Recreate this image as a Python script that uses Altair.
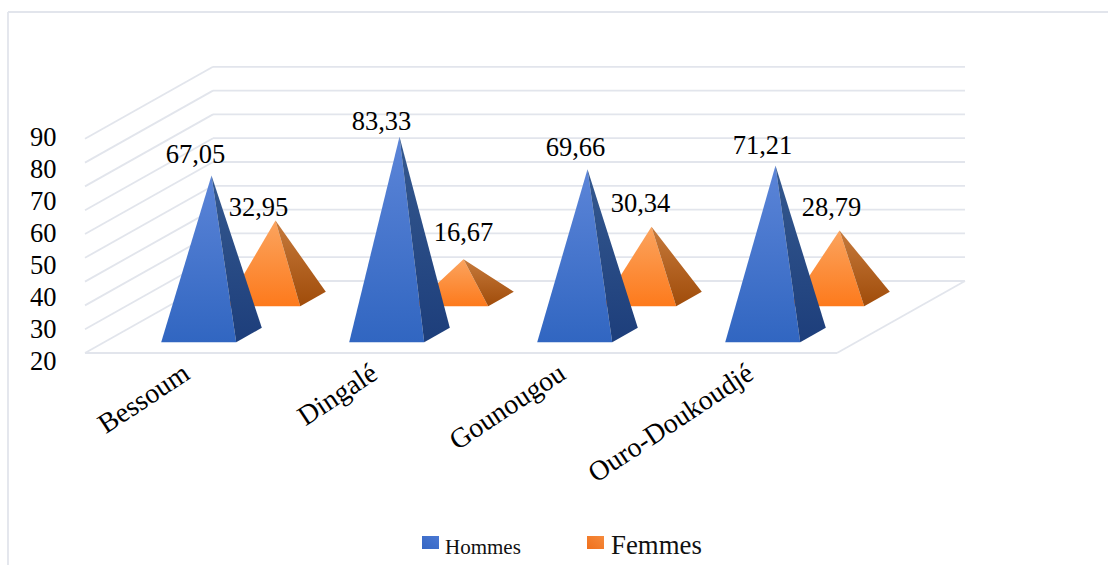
import altair as alt
import pandas as pd

# Chart values
communes = ["Bessoum", "Dingalé", "Gounougou", "Ouro-Doukoudjé"]
hommes = [67.05, 83.33, 69.66, 71.21]
femmes = [32.95, 16.67, 30.34, 28.79]
hommes_labels = ["67,05", "83,33", "69,66", "71,21"]
femmes_labels = ["32,95", "16,67", "30,34", "28,79"]
tick_labels = ["90", "80", "70", "60", "50", "40", "30", "20"]
grid_levels = [0, 10, 20, 30, 40, 50, 60, 70, 80, 90]

W, H = 1108, 565
FONT = "Liberation Serif"
GRID = "#e2e5ec"

# Oblique projection of the 3D box: one value unit is PX pixels tall, depth runs 0..1
PX = 2.38
FLOOR_Y = 353
LEFT = 85.0
FLOOR_W = 752.0
CAT_W = FLOOR_W / len(communes)
DEPTH_DX = 128.0
DEPTH_DU = 72.0 / PX
PYR_W = 75.0
PYR_D = 0.2


def project(x, depth, value):
    return x + depth * DEPTH_DX, value + depth * DEPTH_DU


def triangle_rows(face, pts):
    """Turn a triangle into area rows (x, upper, lower) sorted along x."""
    a, b, c = sorted(pts)
    if c[0] == a[0]:
        mid = a[1]
    else:
        mid = a[1] + (c[1] - a[1]) * (b[0] - a[0]) / (c[0] - a[0])
    return [
        {"face": face, "x": a[0], "u": a[1], "u2": a[1]},
        {"face": face, "x": b[0], "u": max(b[1], mid), "u2": min(b[1], mid)},
        {"face": face, "x": c[0], "u": c[1], "u2": c[1]},
    ]


def pyramid_faces(values, centre_depth):
    front, side, apexes = [], [], []
    for i, v in enumerate(values):
        cx = LEFT + 0.5 + CAT_W * (i + 0.5)
        d0 = centre_depth - PYR_D / 2
        d1 = centre_depth + PYR_D / 2
        fl = project(cx - PYR_W / 2, d0, 0)
        fr = project(cx + PYR_W / 2, d0, 0)
        br = project(cx + PYR_W / 2, d1, 0)
        ap = project(cx, centre_depth, v)
        front += triangle_rows(i, [fl, fr, ap])
        side += triangle_rows(i, [fr, br, ap])
        apexes.append(ap)
    return pd.DataFrame(front), pd.DataFrame(side), apexes


h_front, h_side, h_apex = pyramid_faces(hommes, 0.25)
f_front, f_side, f_apex = pyramid_faces(femmes, 0.75)

x_scale = alt.Scale(domain=[0, W], range=[0, W], nice=False, zero=False)
y_scale = alt.Scale(
    domain=[(FLOOR_Y - H) / PX, FLOOR_Y / PX], range=[H, 0], nice=False, zero=False
)
X = alt.X("x:Q", scale=x_scale, axis=None)
Y = alt.Y("u:Q", scale=y_scale, axis=None)


def gradient(top, bottom):
    return alt.Gradient(
        gradient="linear",
        x1=0, y1=0, x2=0, y2=1,
        stops=[alt.GradientStop(color=top, offset=0), alt.GradientStop(color=bottom, offset=1)],
    )


def face_layer(df, top, bottom):
    return (
        alt.Chart(df)
        .mark_area(color=gradient(top, bottom), interpolate="linear", opacity=1)
        .encode(x=X, y=Y, y2="u2:Q", detail="face:N")
    )


# Walls and floor of the box
grid_rows = []
for lv in grid_levels:
    ax, au = project(LEFT, 0, lv)
    bx, bu = project(LEFT, 1, lv)
    grid_rows.append({"x": ax, "u": au, "xe": bx, "ue": bu})
    grid_rows.append({"x": bx, "u": bu, "xe": bx + FLOOR_W, "ue": bu})
fx, fu = project(LEFT, 0, 0)
rx, ru = project(LEFT + FLOOR_W, 1, 0)
grid_rows.append({"x": fx, "u": fu, "xe": fx + FLOOR_W, "ue": fu})
grid_rows.append({"x": fx + FLOOR_W, "u": fu, "xe": rx, "ue": ru})
grid = (
    alt.Chart(pd.DataFrame(grid_rows))
    .mark_rule(color=GRID, strokeWidth=1.8)
    .encode(x=X, y=Y, x2="xe:Q", y2="ue:Q")
)

# Outer frame: left and top edges
frame_left = (
    alt.Chart(pd.DataFrame({"a": [0]}))
    .mark_rule(color=GRID, strokeWidth=1.8)
    .encode(x=alt.value(8), y=alt.value(12), y2=alt.value(H))
)
frame_top = (
    alt.Chart(pd.DataFrame({"a": [0]}))
    .mark_rule(color=GRID, strokeWidth=1.8)
    .encode(x=alt.value(8), x2=alt.value(W), y=alt.value(12))
)

# Value labels sit near each apex; nudges in pixels (dx, dy)
h_nudge = [(-16, -20), (-18, -15), (-12, -21), (-13, -20)]
f_nudge = [(-17, -13), (0, -26), (-11, -23), (-8, -22.5)]
label_rows = []
for apexes, texts, nudges in ((h_apex, hommes_labels, h_nudge), (f_apex, femmes_labels, f_nudge)):
    for (ax, au), t, (nx, ny) in zip(apexes, texts, nudges):
        label_rows.append({"x": ax + nx, "u": au - ny / PX, "t": t})
value_labels = (
    alt.Chart(pd.DataFrame(label_rows))
    .mark_text(font=FONT, fontSize=26.5, color="black", align="center", baseline="middle")
    .encode(x=X, y=Y, text="t:N")
)

# Vertical axis labels
tick_df = pd.DataFrame({"t": tick_labels, "py": [138 + 32 * i for i in range(len(tick_labels))]})
ticks = (
    alt.Chart(tick_df)
    .mark_text(font=FONT, fontSize=26.5, color="black", align="right", baseline="middle")
    .encode(
        x=alt.value(56.5),
        y=alt.Y("py:Q", scale=alt.Scale(domain=[0, H], range=[0, H], nice=False, zero=False), axis=None),
        text="t:N",
    )
)

# Slanted commune names
cat_df = pd.DataFrame({"t": communes, "x": [187 + CAT_W * i for i in range(len(communes))]})
categories = (
    alt.Chart(cat_df)
    .mark_text(font=FONT, fontSize=28, color="black", align="right", baseline="middle", angle=326.5)
    .encode(x=X, y=alt.value(371), text="t:N")
)

# Legend
def swatch(x0, x1, left_col, right_col):
    return (
        alt.Chart(pd.DataFrame({"a": [0]}))
        .mark_rect(
            color=alt.Gradient(
                gradient="linear", x1=0, y1=1, x2=1, y2=0,
                stops=[alt.GradientStop(color=left_col, offset=0), alt.GradientStop(color=right_col, offset=1)],
            )
        )
        .encode(x=alt.value(x0), x2=alt.value(x1), y=alt.value(536), y2=alt.value(549))
    )


def legend_text(x0, text, size):
    return (
        alt.Chart(pd.DataFrame({"t": [text]}))
        .mark_text(font=FONT, fontSize=size, color="#111111", align="left", baseline="alphabetic")
        .encode(x=alt.value(x0), y=alt.value(554), text="t:N")
    )


chart = (
    alt.layer(
        frame_left,
        frame_top,
        grid,
        face_layer(f_front, "#fba45f", "#fd7a1c"),
        face_layer(f_side, "#c67a3c", "#a04c0a"),
        face_layer(h_front, "#5c85d8", "#3166c1"),
        face_layer(h_side, "#35598f", "#1d3e7b"),
        value_labels,
        ticks,
        categories,
        swatch(422, 439, "#3566c3", "#4a78d3"),
        swatch(587, 604, "#f0701c", "#f58a3c"),
        legend_text(445, "Hommes", 21),
        legend_text(611, "Femmes", 26.8),
    )
    .resolve_scale(x="shared", y="independent")
    .properties(width=W, height=H, padding=0, background="white", autosize=alt.AutoSizeParams(type="none"))
    .configure_view(stroke=None)
)

chart.save("out.html", embed_options={"renderer": "svg", "actions": False})
